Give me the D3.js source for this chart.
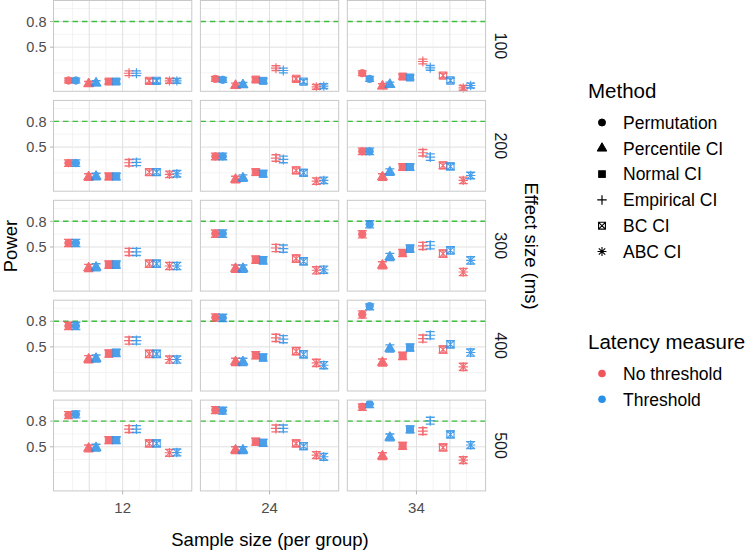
<!DOCTYPE html>
<meta charset="utf-8">
<script src="https://d3js.org/d3.v7.min.js"></script>
<style>
  body { margin: 0; background: #fff; }
  text { font-family: "Liberation Sans", Arial, sans-serif; }
</style>
<div id="chart"></div>
<script>
// facets
var sampleSizes = ["12", "24", "34"];
var effectSizes = ["100", "200", "300", "400", "500"];
var methods = ["Permutation", "Percentile CI", "Normal CI", "Empirical CI", "BC CI", "ABC CI"];
var latencies = ["No threshold", "Threshold"];

// power values: one row per sample size (12, 24, 34), one value per method
var noThr100 = [[0.111, 0.072, 0.099, 0.196, 0.107, 0.107],
                [0.130, 0.052, 0.122, 0.255, 0.130, 0.037],
                [0.196, 0.045, 0.157, 0.333, 0.169, 0.025]];
var thr100   = [[0.111, 0.080, 0.099, 0.196, 0.107, 0.107],
                [0.119, 0.060, 0.107, 0.228, 0.099, 0.045],
                [0.130, 0.064, 0.146, 0.259, 0.111, 0.052]];
var noThr200 = [[0.313, 0.150, 0.157, 0.317, 0.208, 0.181],
                [0.391, 0.122, 0.208, 0.372, 0.228, 0.103],
                [0.450, 0.150, 0.267, 0.434, 0.286, 0.111]];
var thr200   = [[0.313, 0.157, 0.157, 0.321, 0.208, 0.189],
                [0.391, 0.138, 0.189, 0.356, 0.200, 0.111],
                [0.450, 0.208, 0.267, 0.383, 0.274, 0.169]];
var noThr300 = [[0.547, 0.255, 0.294, 0.442, 0.305, 0.278],
                [0.656, 0.247, 0.352, 0.488, 0.364, 0.228],
                [0.648, 0.286, 0.430, 0.512, 0.422, 0.208]];
var thr300   = [[0.547, 0.263, 0.294, 0.442, 0.305, 0.278],
                [0.656, 0.247, 0.344, 0.481, 0.333, 0.235],
                [0.765, 0.383, 0.481, 0.520, 0.461, 0.344]];
var noThr400 = [[0.745, 0.356, 0.422, 0.574, 0.418, 0.352],
                [0.843, 0.325, 0.403, 0.605, 0.450, 0.313],
                [0.878, 0.317, 0.395, 0.597, 0.469, 0.267]];
var thr400   = [[0.745, 0.364, 0.430, 0.574, 0.418, 0.352],
                [0.839, 0.325, 0.376, 0.590, 0.414, 0.286],
                [0.975, 0.481, 0.492, 0.636, 0.531, 0.434]];
var noThr500 = [[0.870, 0.481, 0.578, 0.707, 0.539, 0.430],
                [0.929, 0.461, 0.559, 0.714, 0.539, 0.403],
                [0.967, 0.391, 0.512, 0.683, 0.492, 0.344]];
var thr500   = [[0.878, 0.489, 0.578, 0.707, 0.539, 0.434],
                [0.921, 0.461, 0.547, 0.714, 0.508, 0.383],
                [0.999, 0.609, 0.703, 0.804, 0.644, 0.520]];

// half width of the CI bars, per effect size row
var ciHalf = [0.028, 0.038, 0.042, 0.042, 0.04];

var yTicks = [0.5, 0.8];
var yMinor = [0.2, 0.35, 0.65, 0.95];
var target = 0.8;

var powerTables = [[noThr100, thr100], [noThr200, thr200], [noThr300, thr300],
                   [noThr400, thr400], [noThr500, thr500]];

// flatten
var data = [];
effectSizes.forEach(function(e, ei) {
  latencies.forEach(function(l, li) {
    sampleSizes.forEach(function(n, ni) {
      methods.forEach(function(m, mi) {
        var v = powerTables[ei][li][ni][mi];
        data.push({effect: e, n: n, method: m, latency: l, power: v,
                   lo: v - ciHalf[ei], hi: Math.min(1, v + ciHalf[ei])});
      });
    });
  });
});

var width = 750, height = 551;
var panelLeft = 53.5, panelTop = 0.5, panelW = 138.3, panelH = 90.8;
var colStep = 146.9, rowStep = 99.9;

var svg = d3.select("#chart").append("svg")
  .attr("width", width).attr("height", height);

var color = d3.scaleOrdinal().domain(latencies).range(["#F2545B", "#2A8FE6"]);

var y = d3.scaleLinear().domain([-0.015, 1.045]).range([panelH, 0]);
var xMethod = d3.scaleBand().domain(methods)
  .range([panelW / 2 - 3 * 20.2, panelW / 2 + 3 * 20.2]);
var xLat = d3.scalePoint().domain(latencies).range([-3.7, 3.7]);
var xGrid = d3.scaleLinear().domain([-4.14, 4.14]).range([0, panelW]);

function shape(m, g, s) {
  // s = scale factor
  if (m === "Permutation") {
    g.append("circle").attr("r", 3.7 * s);
  } else if (m === "Percentile CI") {
    g.append("path").attr("d", d3.symbol(d3.symbolTriangle, 44 * s * s)());
  } else if (m === "Normal CI") {
    g.append("rect").attr("x", -3.5 * s).attr("y", -3.5 * s)
      .attr("width", 7 * s).attr("height", 7 * s);
  } else if (m === "Empirical CI") {
    var a = 5 * s;
    g.append("path").attr("d", "M" + -a + ",0H" + a + "M0," + -a + "V" + a)
      .attr("fill", "none").attr("stroke-width", 1.2);
  } else if (m === "BC CI") {
    var b = 3.6 * s;
    g.append("path").attr("d", "M" + -b + "," + -b + "H" + b + "V" + b + "H" + -b + "Z" +
        "M" + -b + "," + -b + "L" + b + "," + b + "M" + b + "," + -b + "L" + -b + "," + b)
      .attr("fill", "none").attr("stroke-width", 1.1);
  } else {
    var c = 4.7 * s, d = c * 0.72;
    g.append("path").attr("d", "M" + -c + ",0H" + c + "M0," + -c + "V" + c +
        "M" + -d + "," + -d + "L" + d + "," + d + "M" + d + "," + -d + "L" + -d + "," + d)
      .attr("fill", "none").attr("stroke-width", 1.1);
  }
}

effectSizes.forEach(function(e, ei) {
  sampleSizes.forEach(function(n, ni) {
    var p = svg.append("g")
      .attr("transform", "translate(" + (panelLeft + ni * colStep) + "," + (panelTop + ei * rowStep) + ")");

    // grid
    yMinor.forEach(function(t) {
      p.append("line").attr("x1", 0).attr("x2", panelW).attr("y1", y(t)).attr("y2", y(t))
        .attr("stroke", "#EDEDED").attr("stroke-width", 0.6);
    });
    yTicks.forEach(function(t) {
      p.append("line").attr("x1", 0).attr("x2", panelW).attr("y1", y(t)).attr("y2", y(t))
        .attr("stroke", "#E0E0E0").attr("stroke-width", 1);
    });
    d3.range(-3, 4).forEach(function(k) {
      p.append("line").attr("x1", xGrid(k)).attr("x2", xGrid(k)).attr("y1", 0).attr("y2", panelH)
        .attr("stroke", k % 2 === 0 ? "#E0E0E0" : "#EDEDED").attr("stroke-width", k % 2 === 0 ? 1 : 0.6);
    });

    // target line
    p.append("line").attr("x1", 0).attr("x2", panelW).attr("y1", y(target)).attr("y2", y(target))
      .attr("stroke", "#3FBF3F").attr("stroke-width", 1.4).attr("stroke-dasharray", "5.5,4");

    var pts = data.filter(function(d) { return d.effect === e && d.n === n; });
    pts.forEach(function(d) {
      var cx = xMethod(d.method) + xMethod.bandwidth() / 2 + xLat(d.latency);
      var g = p.append("g").attr("transform", "translate(" + cx + "," + y(d.power) + ")")
        .attr("fill", color(d.latency)).attr("stroke", color(d.latency)).attr("opacity", 0.85);
      var top = y(d.hi) - y(d.power), bot = y(d.lo) - y(d.power);
      g.append("path")
        .attr("d", "M-4.5," + top + "H4.5M0," + top + "V" + bot + "M-4.5," + bot + "H4.5")
        .attr("fill", "none").attr("stroke-width", 1.4);
      shape(d.method, g, 1);
    });

    // border
    p.append("rect").attr("width", panelW).attr("height", panelH)
      .attr("fill", "none").attr("stroke", "#C8C8C8").attr("stroke-width", 1);

    // y axis on first column
    if (ni === 0) {
      yTicks.forEach(function(t) {
        p.append("line").attr("x1", -3.5).attr("x2", 0).attr("y1", y(t)).attr("y2", y(t))
          .attr("stroke", "#B3B3B3");
        p.append("text").attr("x", -7).attr("y", y(t)).attr("dy", "0.36em")
          .attr("text-anchor", "end").attr("font-size", 14.5).attr("fill", "#4D4D4D")
          .text(d3.format(".1f")(t));
      });
    }
    // x axis on bottom row
    if (ei === effectSizes.length - 1) {
      p.append("line").attr("x1", panelW / 2).attr("x2", panelW / 2).attr("y1", panelH).attr("y2", panelH + 3.5)
        .attr("stroke", "#B3B3B3");
      p.append("text").attr("x", panelW / 2).attr("y", panelH + 22)
        .attr("text-anchor", "middle").attr("font-size", 15).attr("fill", "#4D4D4D").text(n);
    }
    // strip on last column
    if (ni === sampleSizes.length - 1) {
      p.append("text").attr("transform", "translate(" + (panelW + 9) + "," + (panelH / 2) + ") rotate(90)")
        .attr("text-anchor", "middle").attr("font-size", 16).attr("fill", "#1A1A1A").text(e);
    }
  });
});

// axis titles
svg.append("text").attr("x", 270).attr("y", 546).attr("text-anchor", "middle")
  .attr("font-size", 18.5).attr("fill", "#000").text("Sample size (per group)");
svg.append("text").attr("transform", "translate(17,246) rotate(-90)").attr("text-anchor", "middle")
  .attr("font-size", 18.5).attr("fill", "#000").text("Power");
svg.append("text").attr("transform", "translate(525,246) rotate(90)").attr("text-anchor", "middle")
  .attr("font-size", 18.5).attr("fill", "#000").text("Effect size (ms)");

// legends
var lx = 588;
svg.append("text").attr("x", lx).attr("y", 98).attr("font-size", 20.5).attr("fill", "#000").text("Method");
methods.forEach(function(m, i) {
  var yy = 122.5 + i * 25.8;
  var g = svg.append("g").attr("transform", "translate(602," + yy + ")")
    .attr("fill", "#000").attr("stroke", "#000");
  shape(m, g, 0.95);
  svg.append("text").attr("x", 623).attr("y", yy).attr("dy", "0.36em")
    .attr("font-size", 17.5).attr("fill", "#000").text(m);
});

svg.append("text").attr("x", lx).attr("y", 349).attr("font-size", 20.5).attr("fill", "#000").text("Latency measure");
latencies.forEach(function(l, i) {
  var yy = 373.5 + i * 25.8;
  svg.append("circle").attr("cx", 602).attr("cy", yy).attr("r", 3.8).attr("fill", color(l));
  svg.append("text").attr("x", 623).attr("y", yy).attr("dy", "0.36em")
    .attr("font-size", 17.5).attr("fill", "#000").text(l);
});
</script>
